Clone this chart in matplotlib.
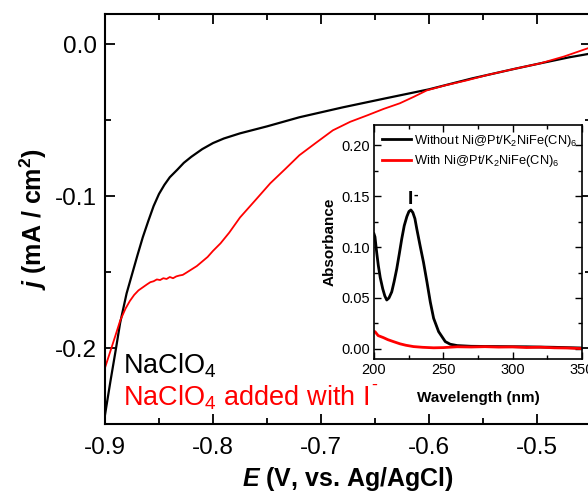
import matplotlib
matplotlib.use('Agg')
import matplotlib.pyplot as plt
from matplotlib.ticker import MultipleLocator, FormatStrFormatter

plt.rcParams['font.family'] = ['Liberation Sans', 'DejaVu Sans']
plt.rcParams['mathtext.fontset'] = 'custom'
plt.rcParams['mathtext.rm'] = 'Liberation Sans'
plt.rcParams['mathtext.it'] = 'Liberation Sans:italic'
plt.rcParams['mathtext.bf'] = 'Liberation Sans:bold'
plt.rcParams['mathtext.bfit'] = 'Liberation Sans:italic:bold'
plt.rcParams['axes.unicode_minus'] = False

# main panel: linear sweep, E (V vs Ag/AgCl) vs j (mA/cm2)
e_naclo4 = [-0.900, -0.895, -0.890, -0.886, -0.880, -0.874, -0.870, -0.865, -0.860,
            -0.855, -0.850, -0.845, -0.840, -0.833, -0.827, -0.820, -0.810, -0.800,
            -0.790, -0.775, -0.750, -0.720, -0.680, -0.640, -0.600, -0.560, -0.520,
            -0.497, -0.470, -0.450]
j_naclo4 = [-0.244, -0.222, -0.201, -0.1835, -0.164, -0.149, -0.139, -0.127, -0.1165,
            -0.1065, -0.0985, -0.0925, -0.0875, -0.0825, -0.078, -0.074, -0.069, -0.065,
            -0.062, -0.0586, -0.054, -0.048, -0.0415, -0.0355, -0.0296, -0.0224, -0.016,
            -0.0125, -0.0085, -0.006]

e_iodide = [-0.900, -0.895, -0.890, -0.886, -0.881, -0.877, -0.873, -0.869, -0.865,
            -0.861, -0.858, -0.855, -0.852, -0.849, -0.846, -0.843, -0.840, -0.837,
            -0.834, -0.831, -0.828, -0.825, -0.821, -0.815, -0.810, -0.805, -0.800,
            -0.793, -0.785, -0.775, -0.760, -0.747, -0.733, -0.720, -0.705, -0.689,
            -0.673, -0.657, -0.642, -0.627, -0.614, -0.602, -0.585, -0.565, -0.545,
            -0.520, -0.497, -0.475, -0.453]
j_iodide = [-0.213, -0.202, -0.191, -0.182, -0.174, -0.169, -0.165, -0.162, -0.160,
            -0.158, -0.1566, -0.1560, -0.1548, -0.1552, -0.1540, -0.1545, -0.1532, -0.1540,
            -0.1528, -0.1522, -0.1518, -0.1505, -0.1487, -0.146, -0.143, -0.140, -0.136,
            -0.131, -0.124, -0.114, -0.102, -0.0915, -0.082, -0.073, -0.065, -0.0566,
            -0.051, -0.0467, -0.0425, -0.0388, -0.0345, -0.0303, -0.027, -0.0237, -0.020,
            -0.016, -0.0125, -0.008, -0.0026]

# inset: UV-vis absorbance
wl_without = [200, 200.7, 202, 203.1, 204.5, 206.3, 207.8, 209.2, 210.8, 212.8, 214.5,
              216.4, 218.2, 220, 221.8, 223.7, 225.2, 226.6, 228, 229.5, 230.9, 233.3,
              235.7, 238.2, 240.6, 243, 246.6, 251.4, 255, 260, 270, 290, 310, 330, 350]
abs_without = [0.113, 0.110, 0.094, 0.082, 0.070, 0.059, 0.052, 0.048, 0.050, 0.056, 0.066,
               0.0786, 0.093, 0.108, 0.121, 0.130, 0.135, 0.1365, 0.134, 0.128, 0.1176, 0.101,
               0.085, 0.0656, 0.046, 0.030, 0.0169, 0.0071, 0.0045, 0.0032, 0.0025, 0.0022,
               0.0020, 0.0015, 0.0008]

wl_with = [200, 200.7, 203, 206.8, 210, 214, 218.8, 223, 228.5, 235, 243, 250, 260, 270,
           280, 290, 300, 310, 320, 330, 340, 350]
abs_with = [0.017, 0.0169, 0.013, 0.011, 0.009, 0.0071, 0.0049, 0.0035, 0.0022, 0.0015,
            0.0010, 0.0012, 0.0020, 0.0018, 0.0021, 0.0017, 0.0019, 0.0013, 0.0016, 0.0010,
            0.0008, 0.0002]

fig = plt.figure(figsize=(5.88, 4.92), dpi=100)
ax = fig.add_axes([105 / 588, 68 / 492, 486 / 588, 410 / 492])

ax.plot(e_naclo4, j_naclo4, color='black', lw=1.6)
ax.plot(e_iodide, j_iodide, color='#ff0000', lw=1.3)

ax.set_xlim(-0.9, -0.45)
ax.set_ylim(-0.25, 0.02)
ax.xaxis.set_major_locator(MultipleLocator(0.1))
ax.xaxis.set_minor_locator(MultipleLocator(0.05))
ax.yaxis.set_major_locator(MultipleLocator(0.1))
ax.yaxis.set_minor_locator(MultipleLocator(0.05))
ax.xaxis.set_major_formatter(FormatStrFormatter('%.1f'))
ax.yaxis.set_major_formatter(FormatStrFormatter('%.1f'))
ax.tick_params(which='both', direction='in', top=True, right=True, width=1.3)
ax.tick_params(which='major', length=7, labelsize=17.5)
ax.tick_params(which='minor', length=4)
ax.tick_params(axis='y', pad=6)
ax.tick_params(axis='x', pad=9)
for sp in ax.spines.values():
    sp.set_linewidth(1.5)

ax.set_xlabel(r'$\mathbfit{E}$ (V, vs. Ag/AgCl)', fontsize=18, fontweight='bold', labelpad=5)
ax.set_ylabel(r'$\mathbfit{j}$ (mA / cm$^\mathbf{2}$)', fontsize=18, fontweight='bold', labelpad=4)

ax.text(0.037, 0.142, r'NaClO$_4$', transform=ax.transAxes, fontsize=19.5,
        color='black', va='center', ha='left')
red_lbl = ax.text(0.037, 0.063, r'NaClO$_4$ added with I', transform=ax.transAxes,
                  fontsize=19.5, color='#ff0000', va='center', ha='left')
# short superscript dash after the I
renderer = fig.canvas.get_renderer()
bb = red_lbl.get_window_extent(renderer)
ax.annotate('-', xy=(bb.x1, bb.y1), xycoords='figure pixels', xytext=(1.5, 5),
            textcoords='offset points', fontsize=13, color='#ff0000',
            ha='left', va='top')

# inset
ins = fig.add_axes([374 / 588, 133 / 492, 208 / 588, 234 / 492])
ins.plot(wl_without, abs_without, color='black', lw=2.0,
         label=r'Without Ni@Pt/K$_2$NiFe(CN)$_6$')
ins.plot(wl_with, abs_with, color='#ff0000', lw=2.0,
         label=r'With Ni@Pt/K$_2$NiFe(CN)$_6$')
ins.set_xlim(200, 350)
ins.set_ylim(-0.01, 0.22)
ins.xaxis.set_major_locator(MultipleLocator(50))
ins.xaxis.set_minor_locator(MultipleLocator(25))
ins.yaxis.set_major_locator(MultipleLocator(0.05))
ins.yaxis.set_minor_locator(MultipleLocator(0.025))
ins.yaxis.set_major_formatter(FormatStrFormatter('%.2f'))
ins.tick_params(which='both', direction='in', top=True, right=True, width=1.0)
ins.tick_params(which='major', length=5, labelsize=10.5, pad=3)
ins.tick_params(which='minor', length=3)
for sp in ins.spines.values():
    sp.set_linewidth(1.2)
ins.set_xlabel('Wavelength (nm)', fontsize=11, fontweight='bold', labelpad=10)
ins.set_ylabel('Absorbance', fontsize=11, fontweight='bold', labelpad=3)
ins.text(226.3, 0.1425, 'I', fontsize=14, fontweight='bold', ha='center', va='baseline')
ins.text(230.2, 0.151, '-', fontsize=10, fontweight='bold', ha='center', va='center')
ins.legend(loc='upper left', fontsize=9.3, frameon=False, handlelength=2.3,
           handletextpad=0.2, borderaxespad=0.4, labelspacing=0.35, borderpad=0.2)

fig.savefig('out.png', dpi=100)
